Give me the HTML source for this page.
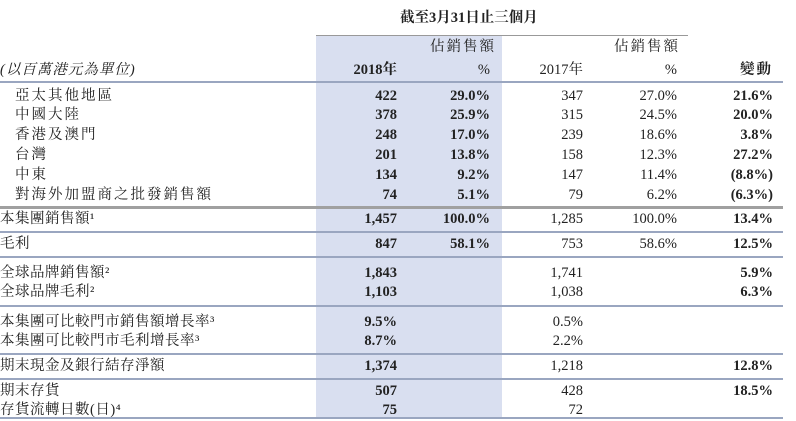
<!DOCTYPE html>
<html><head><meta charset="utf-8">
<style>
body{margin:0;background:#fff;}
#t{position:relative;width:796px;height:421px;overflow:hidden;font-family:"Liberation Serif","Noto Serif CJK SC","Noto Sans CJK TC",serif;font-size:14.5px;color:#222;}
.shade{position:absolute;left:316px;top:36px;width:186px;height:382px;background:#d9dff0;}
.ln{position:absolute;height:2px;background:#9aa6c0;}
.c{position:absolute;white-space:nowrap;line-height:18px;}
.r{text-align:right;}
b{font-weight:bold;}
</style></head><body>
<div id="t">
<div class="shade"></div>
<div class="c" style="left:400px;top:9px;font-weight:bold">截至3月31日止三個月</div>
<div class="ln" style="left:316px;width:372px;top:35px;height:1px;background:#999"></div>
<div class="c" style="left:0;top:61px;font-style:italic;letter-spacing:1px">(以百萬港元為單位)</div>
<div class="c" style="left:430px;top:38px;letter-spacing:2px">佔銷售額</div>
<div class="c" style="left:614px;top:38px;letter-spacing:2px">佔銷售額</div>
<div class="c r" style="right:399px;top:61px;font-weight:bold">2018年</div>
<div class="c r" style="right:306px;top:61px">%</div>
<div class="c r" style="right:213px;top:61px">2017年</div>
<div class="c r" style="right:119px;top:61px">%</div>
<div class="c r" style="right:23px;top:61px;font-weight:bold;letter-spacing:2px">變動</div>
<div class="ln" style="left:0;width:783px;top:81px"></div>
<div id="rows"></div>
<div class="ln" style="left:0;width:783px;top:206px;height:3px;background:#a0a0a0"></div>
<div class="ln" style="left:0;width:783px;top:231px"></div>
<div class="ln" style="left:0;width:783px;top:256px"></div>
<div class="ln" style="left:0;width:783px;top:305px"></div>
<div class="ln" style="left:0;width:783px;top:353px"></div>
<div class="ln" style="left:0;width:783px;top:378px"></div>
<div class="ln" style="left:0;width:783px;top:417px"></div>
</div>
<script>
const labels=["亞太其他地區","中國大陸","香港及澳門","台灣","中東","對海外加盟商之批發銷售額","本集團銷售額¹","毛利","全球品牌銷售額²","全球品牌毛利²","本集團可比較門市銷售額增長率³","本集團可比較門市毛利增長率³","期末現金及銀行結存淨額","期末存貨","存貨流轉日數(日)⁴"];
const v2018=["422","378","248","201","134","74","1,457","847","1,843","1,103","9.5%","8.7%","1,374","507","75"];
const p2018=["29.0%","25.9%","17.0%","13.8%","9.2%","5.1%","100.0%","58.1%","","","","","","",""];
const v2017=["347","315","239","158","147","79","1,285","753","1,741","1,038","0.5%","2.2%","1,218","428","72"];
const p2017=["27.0%","24.5%","18.6%","12.3%","11.4%","6.2%","100.0%","58.6%","","","","","","",""];
const change=["21.6%","20.0%","3.8%","27.2%","(8.8%)","(6.3%)","13.4%","12.5%","5.9%","6.3%","","","12.8%","18.5%",""];
const rowTops=[87,106,126,146,166,186,210,235,264,283,313,332,357,382,401];
const rows=document.getElementById('rows');
function cell(txt,style,bold,name){
  const d=document.createElement('div');
  d.className='c'+(style.right!==undefined?' r':'');
  for(const k in style)d.style[k]=style[k];
  if(bold)d.style.fontWeight='bold';
  d.textContent=txt;
  
  
  rows.appendChild(d);
}
labels.forEach((l,i)=>{
  const t=rowTops[i]+'px';
  cell(l,{left:(i<6?'15px':'0px'),top:t,letterSpacing:(i<6?'2px':'0.5px')},false,'row-label');
  cell(v2018[i],{right:'399px',top:t},true,'value-2018');
  if(p2018[i])cell(p2018[i],{right:'306px',top:t},true,'pct-2018');
  cell(v2017[i],{right:'213px',top:t},false,'value-2017');
  if(p2017[i])cell(p2017[i],{right:'119px',top:t},false,'pct-2017');
  if(change[i])cell(change[i],{right:'23px',top:t},true,'change-value');
});
</script>
</body></html>
